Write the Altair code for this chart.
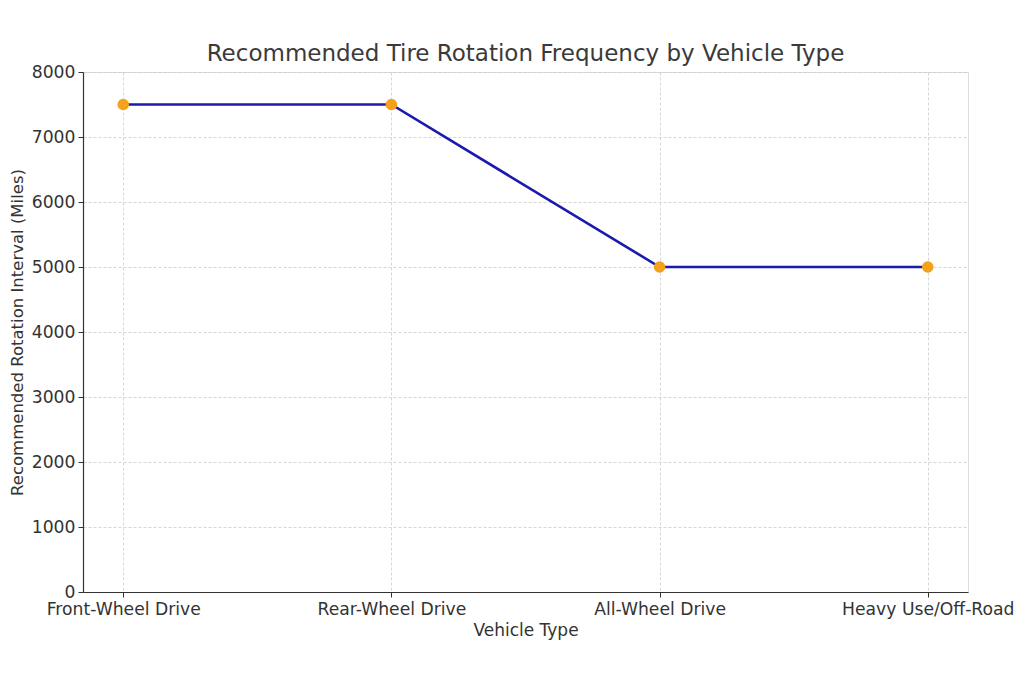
import altair as alt
import pandas as pd

vehicle_types = ["Front-Wheel Drive", "Rear-Wheel Drive", "All-Wheel Drive", "Heavy Use/Off-Road"]
intervals = [7500, 7500, 5000, 5000]
y_ticks = [0, 1000, 2000, 3000, 4000, 5000, 6000, 7000, 8000]

df = pd.DataFrame({"Vehicle Type": vehicle_types, "Interval": intervals})

FONT = "DejaVu Sans"
TXT = "#333333"

x_enc = alt.X(
    "Vehicle Type:N",
    sort=vehicle_types,
    scale=alt.Scale(type="point", padding=0.15),
    axis=alt.Axis(
        title="Vehicle Type",
        labelAngle=0,
        labelFontSize=17.2,
        titleFontSize=17,
        labelColor=TXT,
        titleColor=TXT,
        labelFont=FONT,
        titleFont=FONT,
        titleFontWeight="normal",
        labelPadding=3,
        titlePadding=5,
        tickSize=5,
        tickColor=TXT,
        domainColor=TXT,
        domainWidth=1.2,
        grid=True,
        gridColor="#cccccc",
        gridDash=[3, 2],
        gridWidth=0.8,
        labelOverlap=False,
        labelBound=False,
        labelFlush=False,
    ),
)
y_enc = alt.Y(
    "Interval:Q",
    scale=alt.Scale(domain=[0, 8000], nice=False),
    axis=alt.Axis(
        title="Recommended Rotation Interval (Miles)",
        values=y_ticks,
        format="d",
        labelFontSize=17.2,
        titleFontSize=16.5,
        labelColor=TXT,
        titleColor=TXT,
        labelFont=FONT,
        titleFont=FONT,
        titleFontWeight="normal",
        labelPadding=3,
        titlePadding=6,
        tickSize=5,
        tickColor=TXT,
        domainColor=TXT,
        domainWidth=1.2,
        grid=True,
        gridColor="#cccccc",
        gridDash=[3, 2],
        gridWidth=0.8,
        labelFlush=False,
    ),
)

line = alt.Chart(df).mark_line(color="#1a1aad", strokeWidth=2.6).encode(x=x_enc, y=y_enc)
pts = alt.Chart(df).mark_point(filled=True, color="#f4a21c", size=135, opacity=1).encode(x=x_enc, y=y_enc)

chart = (
    alt.layer(line, pts)
    .properties(
        width=885,
        height=520,
        title=alt.Title(
            "Recommended Tire Rotation Frequency by Vehicle Type",
            fontSize=23,
            font=FONT,
            fontWeight="normal",
            color="#3a3a3a",
            offset=-3,
        ),
        autosize=alt.AutoSizeParams(type="none"),
        padding={"left": 75, "top": 64, "right": 48, "bottom": 60},
    )
    .configure_view(stroke=None)
    .configure(background="white")
)

chart.save("out.html", embed_options={"renderer": "svg", "actions": False})
